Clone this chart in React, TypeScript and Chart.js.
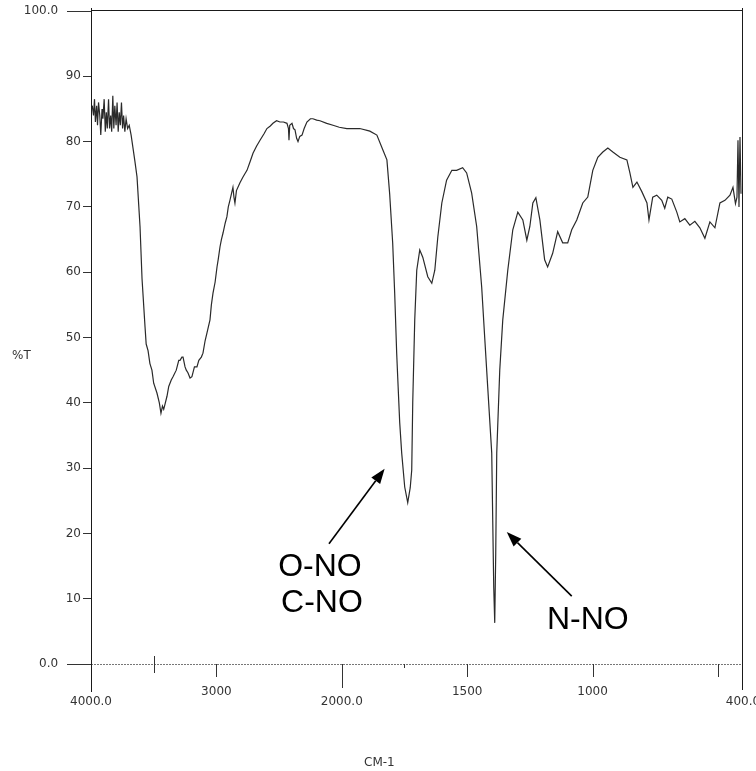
import React, { useEffect, useRef } from "react";
import { Chart, registerables } from "chart.js";

Chart.register(...registerables);

// IR spectrum: wavenumber (cm-1) and %T
const wavenumbers = [
  3990, 3980, 3972, 3965, 3955, 3948, 3940, 3930, 3922, 3912, 3905, 3895, 3886, 3878, 3870, 3860,
  3852, 3843, 3835, 3826, 3818, 3810, 3800, 3792, 3783, 3775, 3766, 3757, 3748, 3740, 3730, 3720,
  3708, 3695, 3680, 3665, 3650, 3633, 3609, 3593, 3569, 3560, 3545, 3530, 3514, 3500, 3474, 3455,
  3442, 3430, 3420, 3394, 3380, 3360, 3346, 3320, 3300, 3290, 3275, 3266, 3250, 3240, 3227, 3210,
  3195, 3175, 3155, 3140, 3120, 3107, 3090, 3075, 3051, 3040, 3027, 3010, 2995, 2985, 2971, 2960,
  2947, 2930, 2916, 2905, 2892, 2880, 2868, 2860, 2852, 2840, 2812, 2790, 2775, 2756, 2730, 2708,
  2680, 2652, 2620, 2597, 2570, 2549, 2520, 2493, 2465, 2437, 2425, 2421, 2415, 2397, 2385, 2373,
  2360, 2349, 2335, 2317, 2300, 2278, 2250, 2230, 2200, 2174, 2120, 2070, 2020, 1980, 1928, 1888,
  1860, 1836, 1820, 1809, 1797, 1789, 1781, 1777, 1769, 1761, 1749, 1737, 1727, 1721, 1717, 1709,
  1701, 1689, 1677, 1657, 1641, 1629, 1617, 1601, 1582, 1561, 1542, 1518, 1502, 1482, 1462, 1442,
  1430, 1418, 1402, 1398, 1394, 1390, 1386, 1382, 1370, 1358, 1338, 1318, 1298, 1278, 1262, 1250,
  1238, 1226, 1210, 1191, 1179, 1159, 1139, 1119, 1099, 1083, 1063, 1039, 1019, 999, 979, 959,
  939, 919, 891, 863, 851, 839, 823, 803, 783, 775, 760, 744, 724, 712, 700, 684,
  664, 652, 632, 612, 592, 572, 552, 532, 512, 492, 472, 452, 440, 430, 424, 420,
  416, 412, 408,
];

const transmittance = [
  85.5, 84, 86.5, 83, 85.5, 82.5, 86, 84, 81, 85, 83.5, 86.5, 81.5, 84.5, 82, 86.5,
  82, 84, 81.5, 87, 82, 85.5, 82.5, 86, 81.5, 84.5, 82.5, 86, 82, 84, 81.5, 83.5,
  82, 82.5, 81, 79, 77, 74.6, 67, 59, 51.6, 49, 48, 46, 45, 43, 41.5, 40,
  38.4, 39.5, 39, 41, 42.5, 43.5, 44, 45, 46.5, 46.5, 47, 47, 45.5, 45, 44.6, 43.8,
  44, 45.5, 45.5, 46.5, 47, 47.6, 49.5, 50.7, 52.7, 55, 56.8, 58.5, 60.8, 62, 63.9, 65,
  66, 67.5, 68.5, 70, 71, 72, 73, 71.5, 70.6, 72.5, 73.7, 74.5, 75, 75.6, 77, 78.2,
  79.3, 80.2, 81.2, 82, 82.4, 82.8, 83.2, 83, 83, 82.8, 82, 80.2, 82.5, 82.8, 82, 81.8,
  80.5, 80, 80.8, 81, 82, 83, 83.5, 83.5, 83.3, 83.2, 82.8, 82.5, 82.2, 82, 82, 81.6,
  81, 78.7, 77.2, 72, 64.5, 56.8, 47.6, 44, 37, 32.3, 27.1, 24.7, 27, 29.7, 40, 52.7,
  60.3, 63.4, 62.3, 59.3, 58.3, 60.3, 65.4, 70.6, 74.1, 75.6, 75.6, 76, 75.2, 72.1, 67, 57.7,
  50, 42.4, 32.3, 22, 11.8, 6.3, 17, 32.3, 45, 52.7, 60.3, 66.5, 69.2, 68, 64.9, 67,
  70.6, 71.4, 68, 61.9, 60.8, 62.9, 66.2, 64.5, 64.5, 66.5, 68, 70.6, 71.5, 75.6, 77.6, 78.4,
  79, 78.4, 77.6, 77.2, 75.2, 73, 73.8, 72.3, 70.6, 68, 71.5, 71.8, 71, 69.8, 71.5, 71.2,
  69.2, 67.7, 68.2, 67.2, 67.8, 66.8, 65.2, 67.7, 66.8, 70.6, 71, 71.8, 73, 70.5, 71.5, 80.2,
  70, 80.7, 72,
];

const yTickValues = [0, 10, 20, 30, 40, 50, 60, 70, 80, 90, 100];
const xLabelWavenumbers = [4000, 3000, 2000, 1500, 1000, 400];
const xLabelTexts = ["4000.0", "3000", "2000.0", "1500", "1000", "400.0"];
const xLabelLower = [true, false, true, false, false, true];
const xTickMarks = [3500, 3000, 2000, 1750, 1500, 1000, 500];

const annotationTexts = ["O-NO", "C-NO", "N-NO"];
const annotationWn = [2174, 2158, 1019];
const annotationT = [14.9, 9.3, 6.7];
const arrowFromWn = [2102, 1083];
const arrowFromT = [18.4, 10.4];
const arrowToWn = [1829, 1342];
const arrowToT = [29.9, 20.2];

// Instrument abscissa: 1000 cm-1 per division above 2000, 500 cm-1 per division below
function toAxis(wn: number): number {
  return wn >= 2000 ? (4000 - wn) / 1000 : 2 + (2000 - wn) / 500;
}

const TICK_FONT = "'DejaVu Sans', sans-serif";
const ANNOT_FONT = "'Liberation Sans', Arial, sans-serif";

const tickStyle: Record<number, [number, number]> = {
  3500: [-8, 9],
  3000: [0, 13],
  2000: [0, 24],
  1750: [0, 4],
  1500: [0, 13],
  1000: [0, 13],
  500: [0, 13],
};

const overlayPlugin = {
  id: "irOverlay",
  afterDraw(chart: any) {
    const { ctx, chartArea: a, scales } = chart;
    const x = scales.x;
    const y = scales.y;
    const line = (x1: number, y1: number, x2: number, y2: number) => {
      ctx.beginPath();
      ctx.moveTo(x1, y1);
      ctx.lineTo(x2, y2);
      ctx.stroke();
    };
    ctx.save();
    // dotted baseline
    ctx.setLineDash([2, 1]);
    ctx.strokeStyle = "#777";
    ctx.lineWidth = 1;
    line(67, Math.round(a.bottom) + 0.5, a.right, Math.round(a.bottom) + 0.5);
    ctx.setLineDash([]);
    // frame
    ctx.strokeStyle = "#1a1a1a";
    line(a.left, Math.round(a.top) - 0.5, a.right, Math.round(a.top) - 0.5);
    line(Math.round(a.left) + 0.5, a.top - 3, Math.round(a.left) + 0.5, a.bottom + 28);
    line(Math.round(a.right) - 0.5, a.top - 3, Math.round(a.right) - 0.5, a.bottom + 26);
    // x tick marks
    ctx.strokeStyle = "#333";
    xTickMarks.forEach((wn) => {
      const px = Math.round(x.getPixelForValue(toAxis(wn))) + 0.5;
      const [t0, t1] = tickStyle[wn] || [0, 10];
      line(px, a.bottom + t0, px, a.bottom + t1);
    });
    // long ticks for 100.0 and 0.0
    [0, 100].forEach((v) => {
      const py = Math.round(y.getPixelForValue(v)) + 0.5;
      line(67, py, a.left, py);
    });
    // axis titles
    ctx.fillStyle = "#333";
    ctx.font = `12px ${TICK_FONT}`;
    ctx.textBaseline = "middle";
    ctx.textAlign = "left";
    ctx.fillText("%T", 12, y.getPixelForValue(47.2));
    ctx.textAlign = "center";
    ctx.fillText("CM-1", x.getPixelForValue(toAxis(1850)), 763);
    // annotations
    ctx.fillStyle = "#000";
    ctx.font = `32px ${ANNOT_FONT}`;
    annotationTexts.forEach((t, i) => {
      ctx.fillText(t, x.getPixelForValue(toAxis(annotationWn[i])), y.getPixelForValue(annotationT[i]));
    });
    ctx.strokeStyle = "#000";
    ctx.lineWidth = 1.6;
    arrowFromWn.forEach((_, i) => {
      const x1 = x.getPixelForValue(toAxis(arrowFromWn[i]));
      const y1 = y.getPixelForValue(arrowFromT[i]);
      const x2 = x.getPixelForValue(toAxis(arrowToWn[i]));
      const y2 = y.getPixelForValue(arrowToT[i]);
      const ang = Math.atan2(y2 - y1, x2 - x1);
      const hl = 15;
      const hw = 5.5;
      const bx = x2 - hl * Math.cos(ang);
      const by = y2 - hl * Math.sin(ang);
      line(x1, y1, bx, by);
      ctx.beginPath();
      ctx.moveTo(x2, y2);
      ctx.lineTo(bx + hw * Math.sin(ang), by - hw * Math.cos(ang));
      ctx.lineTo(bx - hw * Math.sin(ang), by + hw * Math.cos(ang));
      ctx.closePath();
      ctx.fillStyle = "#000";
      ctx.fill();
    });
    ctx.restore();
  },
};

export default function App() {
  const canvasRef = useRef<HTMLCanvasElement | null>(null);

  useEffect(() => {
    const canvas = canvasRef.current;
    if (!canvas) return;
    const points = wavenumbers.map((wn, i) => ({ x: toAxis(wn), y: transmittance[i] }));
    const chart = new Chart(canvas, {
      type: "line",
      data: {
        datasets: [
          {
            data: points,
            borderColor: "#2a2a2a",
            borderWidth: 1.2,
            pointRadius: 0,
            tension: 0,
            fill: false,
          },
        ],
      },
      options: {
        animation: false,
        responsive: true,
        maintainAspectRatio: false,
        layout: { padding: { left: 0, top: 11, right: 13, bottom: 0 } },
        plugins: { legend: { display: false }, tooltip: { enabled: false } },
        scales: {
          x: {
            type: "linear",
            min: 0,
            max: toAxis(400),
            border: { display: false },
            grid: { display: false, drawTicks: false },
            afterBuildTicks: (scale: any) => {
              scale.ticks = xLabelWavenumbers.map((wn) => ({ value: toAxis(wn) }));
            },
            afterFit: (scale: any) => {
              scale.height = 107;
              scale.paddingLeft = 0;
              scale.paddingRight = 0;
            },
            ticks: {
              autoSkip: false,
              maxRotation: 0,
              minRotation: 0,
              padding: 23,
              color: "#333",
              font: { family: TICK_FONT, size: 12, lineHeight: 0.85 },
              callback: (_v: any, i: number) =>
                xLabelLower[i] ? ["", xLabelTexts[i]] : xLabelTexts[i],
            },
          },
          y: {
            type: "linear",
            min: 0,
            max: 100,
            border: { display: false },
            grid: { display: true, drawOnChartArea: false, drawTicks: true, tickLength: 8, color: "#333" },
            afterBuildTicks: (scale: any) => {
              scale.ticks = yTickValues.map((v) => ({ value: v }));
            },
            afterFit: (scale: any) => {
              scale.width = 91;
              scale.paddingTop = 0;
              scale.paddingBottom = 0;
            },
            ticks: {
              padding: 2,
              color: "#333",
              font: { family: TICK_FONT, size: 12 },
              callback: (v: any) =>
                v === 100 ? "100.0      " : v === 0 ? "0.0      " : String(v),
            },
          },
        },
      },
      plugins: [overlayPlugin],
    });
    return () => chart.destroy();
  }, []);

  return (
    <div style={{ position: "fixed", left: 0, top: 0, width: 756, height: 771, background: "#fff" }}>
      <canvas ref={canvasRef} />
    </div>
  );
}
